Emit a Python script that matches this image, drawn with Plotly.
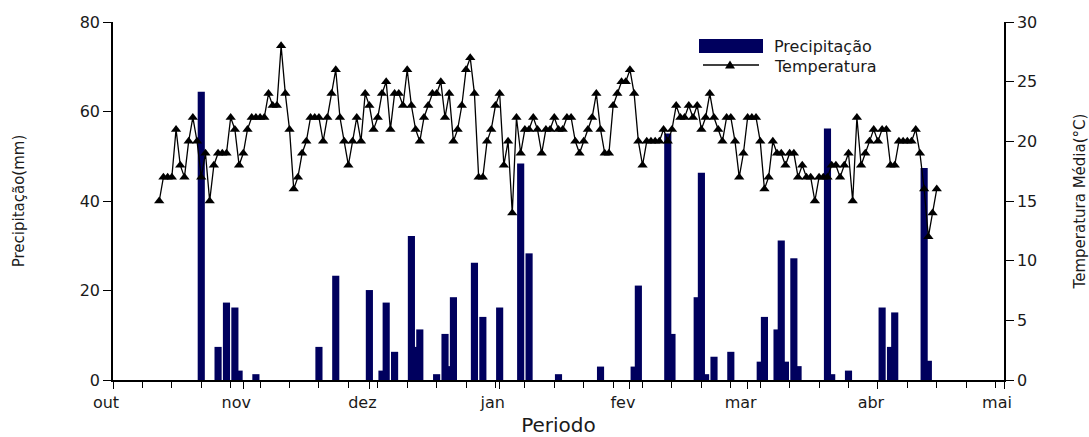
import plotly.graph_objects as go

# ---------------- data ----------------
# x axis in days counted from 1 October (0 = 1 out, 212 = 1 mai)
month_tick_days = [0, 31, 61, 92, 123, 151, 182, 212]
month_labels = ["out", "nov", "dez", "jan", "fev", "mar", "abr", "mai"]

# daily precipitation (mm) - only rainy days
precip_days = [21, 25, 27, 29, 30, 34, 49, 53, 61, 64, 65, 67, 71, 72, 73,
               77, 79, 80, 81, 86, 88, 92, 97, 99, 106, 116, 124, 125, 132,
               133, 139, 140, 141, 143, 147, 154, 155, 158, 159, 160, 162,
               163, 170, 171, 175, 183, 185, 186, 193, 194]
precip_mm = [64.4, 7.4, 17.3, 16.2, 2.1, 1.3, 7.4, 23.3, 20.1, 2.1, 17.3, 6.3,
             32.2, 7.4, 11.3, 1.3, 10.3, 3.1, 18.5, 26.2, 14.1, 16.2, 48.4,
             28.3, 1.3, 3.0, 3.0, 21.1, 55.1, 10.3, 18.5, 46.3, 1.3, 5.2, 6.3,
             4.1, 14.1, 11.3, 31.2, 4.1, 27.2, 3.1, 56.2, 1.3, 2.1, 16.2, 7.4,
             15.1, 47.4, 4.3]

# daily mean temperature (°C), first reading on day 11
temp_first_day = 11
temp_c = [
    15, 17, 17, 17, 21, 18, 17, 20, 22, 20, 17, 19, 15, 18, 19, 19, 19, 22, 21, 18,
    19, 21, 22, 22, 22, 22, 24, 23, 23, 28, 24,
    21, 16, 17, 19, 20, 22, 22, 22, 20, 22, 24, 26, 22, 20, 18, 20, 22, 20, 24, 23,
    21, 22, 24, 25, 21, 24, 24, 23, 26, 23, 21,
    20, 22, 23, 24, 24, 25, 22, 24, 20, 21, 23, 26, 27, 24, 17, 17, 20, 21, 23, 24,
    18, 20, 14, 22, 19, 21, 21, 22, 21, 19, 21, 21, 22,
    21, 21, 22, 22, 20, 19, 20, 21, 22, 24, 21, 19, 19, 23, 24, 25, 25, 26, 24, 20,
    18, 20, 20, 20, 20, 21, 20, 21, 23, 22, 22, 23,
    22, 23, 21, 22, 24, 22, 21, 20, 22, 22, 20, 17, 19, 22, 22, 22, 20, 16, 17, 20,
    19, 19, 18, 19, 19, 17, 18, 17, 17, 15, 17, 17,
    17, 18, 18, 17, 18, 19, 15, 22, 18, 19, 20, 21, 20, 21, 21, 18, 18, 20, 20, 20,
    20, 21, 19, 16, 12, 14, 16,
]
temp_days = list(range(temp_first_day, temp_first_day + len(temp_c)))

legend_names = ["Precipitação", "Temperatura"]

# ---------------- figure ----------------
W, H = 1089, 437
L, R, T, B = 113, 85, 22, 57
BAR_COLOR = "#00005e"
FONT = "DejaVu Sans"
TXT = "#1a1a1a"

fig = go.Figure()
fig.add_trace(go.Bar(
    x=precip_days, y=precip_mm, width=1.7,
    marker=dict(color=BAR_COLOR, line=dict(width=0)),
    name=legend_names[0], showlegend=False,
))
fig.add_trace(go.Scatter(
    x=temp_days, y=temp_c, yaxis="y2", mode="lines+markers",
    line=dict(color="black", width=1.3),
    marker=dict(symbol="triangle-up", size=9, color="black"),
    name=legend_names[1], showlegend=False,
))

axis_common = dict(showline=True, linecolor="black", linewidth=1.5,
                   showgrid=False, zeroline=False, ticks="outside",
                   tickcolor="black", tickwidth=1.3, automargin=False)

fig.update_layout(
    width=W, height=H,
    margin=dict(l=L, r=R, t=T, b=B, pad=0, autoexpand=False),
    paper_bgcolor="white", plot_bgcolor="white",
    font=dict(family=FONT, size=16, color=TXT),
    barmode="overlay",
    xaxis=dict(
        **axis_common, range=[0, 212], tickmode="array",
        tickvals=month_tick_days, ticktext=month_labels, ticklen=7,
        ticklabelshift=-7,
        minor=dict(tickmode="linear", tick0=0, dtick=7, ticks="outside",
                   ticklen=6, tickcolor="black", tickwidth=1.2),
        title=dict(text="Periodo", font=dict(size=20), standoff=18),
    ),
    yaxis=dict(
        **axis_common, range=[0, 80], tickmode="array",
        tickvals=[0, 20, 40, 60, 80], ticklen=8,
        title=dict(text="Precipitação(mm)", font=dict(size=15), standoff=51),
    ),
    yaxis2=dict(
        **axis_common, range=[0, 30], overlaying="y", side="right",
        tickmode="array", tickvals=[0, 5, 10, 15, 20, 25, 30], ticklen=8,
        title=dict(text="Temperatura Média(°C)", font=dict(size=15), standoff=40),
    ),
)

# ---------------- legend (drawn to match the reference look) ----------------
def px(xp):
    return (xp - L) / (W - L - R)

def py(yp):
    return (H - B - yp) / (H - T - B)

shapes = [
    dict(type="rect", xref="paper", yref="paper",
         x0=px(699), x1=px(763), y0=py(53), y1=py(39),
         fillcolor=BAR_COLOR, line=dict(width=0)),
    dict(type="line", xref="paper", yref="paper",
         x0=px(703), x1=px(759), y0=py(65), y1=py(65),
         line=dict(color="black", width=1.3)),
    dict(type="path", xref="paper", yref="paper",
         path=f"M {px(725)},{py(68.5)} L {px(735)},{py(68.5)} L {px(730)},{py(60.5)} Z",
         fillcolor="black", line=dict(width=0)),
]
fig.update_layout(shapes=shapes)
for name, yc in zip(legend_names, [46, 66]):
    fig.add_annotation(xref="paper", yref="paper", x=px(772), y=py(yc),
                       xanchor="left", yanchor="middle", showarrow=False,
                       text=name, font=dict(size=16, color=TXT, family=FONT))

fig.write_html("out.html")
